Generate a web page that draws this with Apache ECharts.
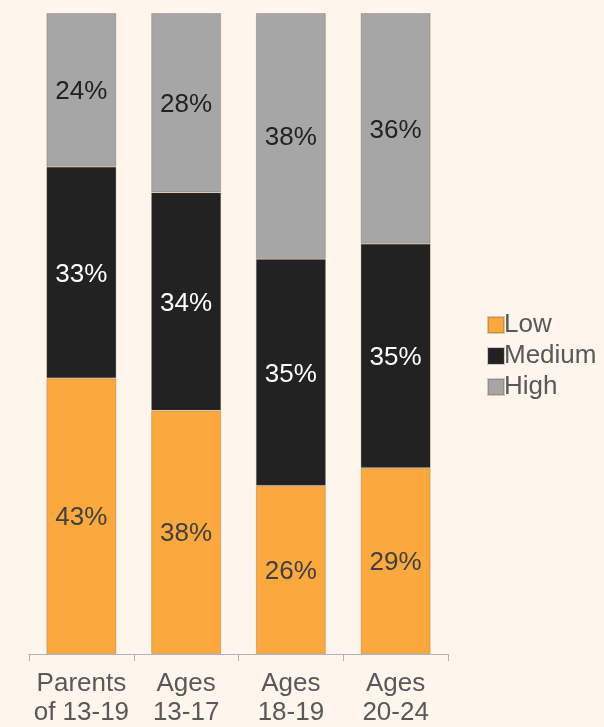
<!DOCTYPE html>
<html>
<head>
	<meta charset="utf-8"/>
	<title>Stacked bars</title>
</head>
<body style="margin: 0; background: #fef5ec;">

	<div id="chart" style="width: 604px; height: 727px;"></div>

	<script src="https://cdn.jsdelivr.net/npm/echarts@6/dist/echarts.min.js"></script>
	<script>
		var categories = ['Parents\nof 13-19', 'Ages\n13-17', 'Ages\n18-19', 'Ages\n20-24'];
		var lowData = [43, 38, 26, 29];
		var mediumData = [33, 34, 35, 35];
		var highData = [24, 28, 38, 36];

		// 100% stacked like the original: each column scaled to its own total
		function share (arr, i) {
			var total = lowData[i] + mediumData[i] + highData[i];
			return {
				value: arr[i] / total * 100,
				raw: arr[i]
			};
		}

		function build (arr) {
			var out = [];
			for (var i = 0; i < arr.length; i++) {
				out.push(share(arr, i));
			}
			return out;
		}

		function makeSeries (name, arr, color, textColor) {
			return {
				name: name,
				type: 'bar',
				stack: 'total',
				barWidth: 70,
				data: build(arr),
				itemStyle: {
					color: color,
					borderColor: 'rgba(90,70,40,0.25)',
					borderWidth: 1
				},
				label: {
					show: true,
					position: 'inside',
					color: textColor,
					fontSize: 26,
					fontFamily: 'Liberation Sans',
					offset: [0, 2],
					formatter: function (p) {
						return p.data.raw + '%';
					}
				}
			};
		}

		var myChart = echarts.init(document.getElementById('chart'));

		var option = {
			backgroundColor: '#fef5ec',
			animation: false,
			grid: {
				left: 29,
				right: 156,
				top: 13,
				bottom: 72
			},
			legend: {
				orient: 'vertical',
				left: 482,
				top: 307,
				itemWidth: 16,
				itemHeight: 16,
				itemGap: 5,
				icon: 'rect',
				data: ['Low', 'Medium', 'High'],
				textStyle: {
					fontSize: 26,
					lineHeight: 26,
					color: '#595959',
					fontFamily: 'Liberation Sans',
					padding: [0, 0, 0, -5]
				}
			},
			xAxis: {
				type: 'category',
				data: categories,
				axisLine: { lineStyle: { color: '#b3b3b3', width: 1 } },
				axisTick: { show: true, length: 7, lineStyle: { color: '#b3b3b3' } },
				axisLabel: {
					color: '#595959',
					fontSize: 26,
					lineHeight: 29,
					fontFamily: 'Liberation Sans',
					margin: 15,
					interval: 0
				}
			},
			yAxis: {
				type: 'value',
				min: 0,
				max: 100,
				show: false,
				splitLine: { show: false }
			},
			series: [
				makeSeries('Low', lowData, '#fba83f', '#404040'),
				makeSeries('Medium', mediumData, '#222222', '#ffffff'),
				makeSeries('High', highData, '#a6a6a6', '#222222')
			]
		};

		myChart.setOption(option);
	</script>
</body>
</html>
